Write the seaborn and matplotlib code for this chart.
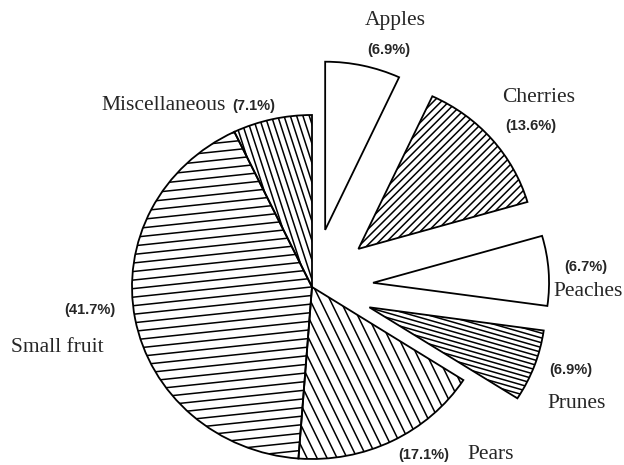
"""
Exploded pie of fruit acreage shares, with hand-drawn style hatching.
"""

import numpy as np
import matplotlib
matplotlib.use('Agg')  # Non-interactive backend
import matplotlib.pyplot as plt
from matplotlib.collections import LineCollection
from matplotlib.patches import PathPatch
import seaborn as sns

# slices listed clockwise from 12 o'clock
fruits = ['Apples', 'Cherries', 'Peaches', 'Prunes', 'Pears', 'Small fruit', 'Miscellaneous']
shares = [6.9, 13.6, 6.7, 6.9, 17.1, 41.7, 7.1]
pulled_out = [True, True, True, True, False, False, False]

# hatch for each slice: (angle in degrees, spacing in px); None = plain white
hatches = [None, (45, 5.5), None, (-16, 4.6), (-64, 9.0), (6, 8.5), (-72, 6.0)]

# label placement in image pixels: (name xy, percent xy)
name_pos = [(395, 20), (539, 98), (588, 292), (577, 403), (491, 454), (57, 347), (164, 105)]
pct_pos = [(389, 50), (531, 126), (586, 267), (571, 370), (424, 455), (90, 310), (254, 106)]

W, H = 624, 465
RX, RY = 180, 172          # pie is slightly wider than tall in the scan
K = RX / RY
CX, CY = 312, 287          # pie centre in image pixels
PULL = 0.34                # pull-out distance, fraction of radius
PULLED_R = 176             # pulled-out slices are drawn a touch smaller

sns.set_theme(style='white')
plt.rcParams['font.family'] = ['Liberation Serif', 'DejaVu Serif']


def add_hatch(ax, wedge, angle, spacing):
    """Parallel lines clipped to a wedge (angle/spacing measured on screen)."""
    cx, cy = wedge.center[0], wedge.center[1] / K
    R = wedge.r * 1.2
    a = np.deg2rad(angle)
    d = np.array([np.cos(a), np.sin(a)])
    n = np.array([-np.sin(a), np.cos(a)])
    segs = []
    base = np.dot([cx, cy], n)
    start = np.floor((base - R) / spacing) * spacing
    for t in np.arange(start, base + R, spacing):
        p = n * t + d * np.dot([cx, cy], d)
        p0, p1 = p - R * d, p + R * d
        segs.append([(p0[0], p0[1] * K), (p1[0], p1[1] * K)])
    lc = LineCollection(segs, colors='black', linewidths=1.1, zorder=2)
    ax.add_collection(lc)
    lc.set_clip_path(wedge)


fig = plt.figure(figsize=(W / 100, H / 100), dpi=100)
ax = fig.add_axes([0, 0, 1, 1])

# pie explode is in data units, not a fraction of the radius
explode = [PULL * RX if p else 0.0 for p in pulled_out]
wedges, _ = ax.pie(shares, explode=explode, startangle=90, counterclock=False,
                   center=(CX, (H - CY) * K), radius=RX,
                   wedgeprops=dict(facecolor='white', edgecolor='none', zorder=1))

ax.set_aspect('auto')
ax.set_xlim(0, W)
ax.set_ylim(0, H * K)
ax.axis('off')

for w, p in zip(wedges, pulled_out):
    if p:
        w.set_radius(PULLED_R)

for w, h in zip(wedges, hatches):
    if h is not None:
        add_hatch(ax, w, *h)

# outlines on top of the hatching
for w in wedges:
    ax.add_patch(PathPatch(w.get_path(), fill=False, edgecolor='black',
                           linewidth=1.3, zorder=3, transform=w.get_transform()))

for name, pct, (nx, ny), (px, py) in zip(fruits, shares, name_pos, pct_pos):
    fig.text(nx / W, 1 - ny / H, name, ha='center', va='center',
             fontsize=15.5, family=['Liberation Serif', 'DejaVu Serif'])
    fig.text(px / W, 1 - py / H, f'({pct:.1f}%)', ha='center', va='center',
             fontsize=10.5, fontweight='bold', family=['Liberation Sans', 'DejaVu Sans'])

fig.savefig('out.png', dpi=100, facecolor='white')
